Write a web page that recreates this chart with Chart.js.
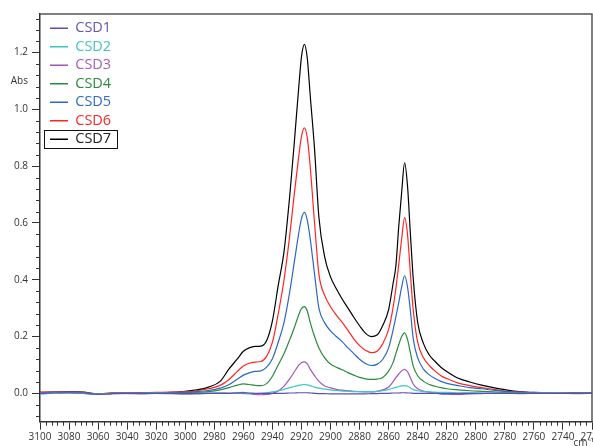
<!DOCTYPE html>
<html>
<head>
<meta charset="utf-8">
<script src="https://cdn.jsdelivr.net/npm/chart.js@4.4.1/dist/chart.umd.min.js"></script>
<style>
  html, body { margin: 0; padding: 0; background: #fff; overflow: hidden; }
  #wrap { width: 612px; height: 460px; position: relative; }
</style>
</head>
<body>
<div id="wrap"><canvas id="spec"></canvas></div>
<script>
// IR spectra, C-H stretch region

const wavenumbers = [3100, 3090, 3080, 3070, 3060, 3050, 3040, 3030, 3020, 3010,
  3000, 2992, 2984, 2976, 2970, 2964, 2960, 2956, 2952, 2948,
  2944, 2940, 2936, 2932, 2928, 2925, 2922, 2920, 2918, 2916,
  2914, 2911, 2908, 2904, 2900, 2896, 2892, 2888, 2884, 2880,
  2876, 2872, 2868, 2864, 2860, 2857, 2855, 2853, 2851, 2849,
  2847, 2845, 2843, 2840, 2836, 2832, 2828, 2824, 2820, 2812,
  2804, 2796, 2788, 2780, 2770, 2760, 2750, 2740, 2730, 2720];

const csd1 = [0.000, 0.001, 0.002, 0.001, -0.004, -0.001, 0.000, 0.000, 0.000, 0.000,
  0.000, 0.000, 0.000, 0.000, 0.000, 0.001, 0.001, 0.001, 0.000, 0.000,
  0.000, 0.000, 0.000, 0.000, 0.001, 0.001, 0.002, 0.002, 0.002, 0.002,
  0.001, 0.000, -0.001, -0.001, -0.002, -0.002, -0.002, -0.002, -0.002, -0.002,
  -0.002, -0.001, -0.001, 0.000, 0.000, 0.001, 0.001, 0.001, 0.002, 0.002,
  0.001, 0.001, 0.000, 0.000, 0.000, 0.000, 0.000, -0.001, -0.001, -0.001,
  0.000, 0.000, 0.000, 0.000, 0.000, 0.000, 0.000, 0.000, 0.000, 0.000];

const csd2 = [-0.004, 0.001, 0.002, 0.000, -0.003, 0.000, -0.001, 0.000, 0.001, 0.000,
  -0.001, 0.000, 0.001, 0.001, 0.000, 0.000, -0.001, -0.002, -0.001, 0.000,
  0.002, 0.005, 0.009, 0.014, 0.020, 0.024, 0.028, 0.030, 0.031, 0.030,
  0.027, 0.022, 0.018, 0.015, 0.012, 0.010, 0.008, 0.007, 0.006, 0.006,
  0.006, 0.006, 0.007, 0.009, 0.013, 0.018, 0.021, 0.024, 0.026, 0.027,
  0.025, 0.019, 0.013, 0.009, 0.006, 0.005, 0.004, 0.003, 0.003, 0.002,
  0.002, 0.001, 0.001, 0.001, 0.000, 0.000, 0.001, 0.000, 0.000, 0.000];

const csd3 = [0.001, 0.002, 0.001, 0.000, -0.004, -0.001, 0.000, -0.002, 0.000, -0.001,
  -0.003, -0.002, 0.000, 0.001, 0.000, 0.002, 0.003, 0.000, -0.004, -0.005,
  -0.004, 0.000, 0.008, 0.025, 0.052, 0.075, 0.098, 0.108, 0.111, 0.104,
  0.085, 0.062, 0.042, 0.026, 0.019, 0.014, 0.011, 0.009, 0.007, 0.006,
  0.005, 0.005, 0.007, 0.012, 0.022, 0.040, 0.055, 0.068, 0.079, 0.084,
  0.076, 0.055, 0.032, 0.016, 0.008, 0.004, 0.001, -0.002, -0.003, -0.004,
  -0.002, -0.001, 0.000, 0.000, -0.001, 0.000, 0.001, 0.000, -0.001, 0.000];

const csd4 = [0.002, 0.003, 0.003, 0.002, -0.003, 0.000, 0.000, 0.000, 0.001, 0.001,
  0.002, 0.003, 0.006, 0.012, 0.020, 0.029, 0.033, 0.031, 0.028, 0.027,
  0.034, 0.060, 0.100, 0.140, 0.190, 0.230, 0.275, 0.298, 0.305, 0.290,
  0.250, 0.200, 0.160, 0.125, 0.103, 0.092, 0.083, 0.073, 0.064, 0.056,
  0.051, 0.049, 0.050, 0.056, 0.078, 0.108, 0.140, 0.172, 0.200, 0.213,
  0.190, 0.142, 0.095, 0.062, 0.042, 0.031, 0.025, 0.020, 0.016, 0.012,
  0.009, 0.007, 0.005, 0.003, 0.002, 0.001, 0.001, 0.000, 0.001, 0.001];

const csd5 = [0.002, 0.003, 0.004, 0.002, -0.004, 0.000, 0.000, 0.001, 0.001, 0.002,
  0.004, 0.006, 0.010, 0.018, 0.030, 0.050, 0.064, 0.072, 0.077, 0.079,
  0.092, 0.122, 0.180, 0.250, 0.360, 0.460, 0.560, 0.615, 0.637, 0.610,
  0.545, 0.420, 0.300, 0.248, 0.220, 0.200, 0.182, 0.160, 0.140, 0.120,
  0.105, 0.098, 0.102, 0.120, 0.160, 0.222, 0.270, 0.320, 0.375, 0.414,
  0.375, 0.290, 0.190, 0.125, 0.085, 0.065, 0.052, 0.042, 0.035, 0.027,
  0.020, 0.016, 0.011, 0.007, 0.004, 0.002, 0.001, 0.000, 0.001, 0.001];

const csd6 = [0.004, 0.005, 0.005, 0.003, -0.002, 0.002, 0.001, 0.002, 0.003, 0.004,
  0.006, 0.009, 0.016, 0.028, 0.048, 0.078, 0.096, 0.106, 0.110, 0.112,
  0.130, 0.180, 0.280, 0.400, 0.560, 0.700, 0.830, 0.905, 0.935, 0.900,
  0.800, 0.600, 0.420, 0.345, 0.305, 0.275, 0.250, 0.222, 0.192, 0.168,
  0.152, 0.143, 0.148, 0.175, 0.225, 0.300, 0.370, 0.455, 0.545, 0.619,
  0.560, 0.420, 0.290, 0.180, 0.125, 0.098, 0.078, 0.062, 0.052, 0.036,
  0.027, 0.020, 0.014, 0.008, 0.004, 0.002, 0.001, 0.001, 0.002, 0.002];

const csd7 = [0.003, 0.004, 0.006, 0.004, -0.003, 0.001, 0.000, 0.001, 0.002, 0.003,
  0.007, 0.012, 0.022, 0.042, 0.085, 0.122, 0.148, 0.160, 0.165, 0.166,
  0.185, 0.255, 0.380, 0.500, 0.700, 0.880, 1.070, 1.185, 1.229, 1.180,
  1.050, 0.860, 0.620, 0.480, 0.410, 0.368, 0.332, 0.300, 0.268, 0.238,
  0.212, 0.200, 0.205, 0.240, 0.295, 0.385, 0.450, 0.590, 0.710, 0.812,
  0.730, 0.560, 0.400, 0.250, 0.175, 0.135, 0.112, 0.092, 0.077, 0.053,
  0.040, 0.029, 0.020, 0.013, 0.006, 0.003, 0.002, 0.000, 0.001, 0.002];

const seriesNames = ['CSD1', 'CSD2', 'CSD3', 'CSD4', 'CSD5', 'CSD6', 'CSD7'];
const seriesValues = [csd1, csd2, csd3, csd4, csd5, csd6, csd7];
const lineColors = ['#5b4fb3', '#3cc6c8', '#a455bb', '#2b8a3c', '#2c68c2', '#ff2424', '#000000'];
const textColors = ['#6657b0', '#45c3c6', '#a65cbc', '#2e8a40', '#2f6bc2', '#f22a2a', '#222222'];

const xTickLabels = [3100, 3080, 3060, 3040, 3020, 3000, 2980, 2960, 2940, 2920,
  2900, 2880, 2860, 2840, 2820, 2800, 2780, 2760, 2740, 2720];
const yTickLabels = [0.0, 0.2, 0.4, 0.6, 0.8, 1.0, 1.2];

const axisColor = '#333';
const tickFont = { family: 'Open Sans', size: 10 };

// minor ticks, frame, axis units and the box round the last legend entry
const decorPlugin = {
  id: 'decor',
  afterLayout(chart) {
    const lg = chart.legend;
    lg.left = chart.chartArea.left + 6;
    lg.top = chart.chartArea.top + 3;
  },
  afterDraw(chart) {
    const { ctx, chartArea: a, scales: { x, y } } = chart;
    ctx.save();
    ctx.strokeStyle = axisColor;
    ctx.lineWidth = 1;
    ctx.beginPath();
    for (let v = 2720; v <= 3100; v += 4) {
      if (v % 20 === 0) continue;
      const px = Math.round(x.getPixelForValue(v)) + 0.5;
      ctx.moveTo(px, a.bottom);
      ctx.lineTo(px, a.bottom + 4);
    }
    for (let i = -2; i <= 33; i++) {
      if (i % 5 === 0) continue;
      const py = Math.round(y.getPixelForValue(i * 0.04)) + 0.5;
      ctx.moveTo(a.left - 4, py);
      ctx.lineTo(a.left, py);
    }
    ctx.stroke();

    // top and right frame
    ctx.strokeStyle = '#555';
    ctx.lineWidth = 1.5;
    ctx.beginPath();
    ctx.moveTo(a.left, a.top);
    ctx.lineTo(a.right, a.top);
    ctx.lineTo(a.right, a.bottom);
    ctx.stroke();

    // axis units
    ctx.fillStyle = axisColor;
    ctx.font = '10px "Open Sans"';
    ctx.textAlign = 'right';
    ctx.textBaseline = 'middle';
    ctx.fillText('Abs', a.left - 12, y.getPixelForValue(1.1));
    ctx.fillText('cm⁻¹', a.right + 2, a.bottom + 21);

    // box round CSD7
    const hb = chart.legend.legendHitBoxes[6];
    if (hb) {
      ctx.strokeStyle = '#111';
      ctx.lineWidth = 1;
      ctx.strokeRect(Math.round(hb.left - 6) + 0.5, Math.round(hb.top - 2) + 0.5,
        Math.round(hb.width + 12), Math.round(hb.height + 3));
    }
    ctx.restore();
  }
};

const datasets = seriesNames.map((name, i) => ({
  label: name,
  data: wavenumbers.map((w, j) => ({ x: w, y: seriesValues[i][j] })),
  borderColor: lineColors[i],
  backgroundColor: lineColors[i],
  borderWidth: 1.2,
  pointRadius: 0,
  cubicInterpolationMode: 'monotone',
  fill: false
}));

new Chart(document.getElementById('spec'), {
  type: 'line',
  data: { datasets: datasets },
  plugins: [decorPlugin],
  options: {
    responsive: true,
    maintainAspectRatio: false,
    animation: false,
    layout: { padding: { left: 0, top: 14, right: 20, bottom: 0 } },
    plugins: {
      tooltip: { enabled: false },
      legend: {
        position: 'chartArea',
        align: 'start',
        labels: {
          usePointStyle: true,
          pointStyle: 'line',
          pointStyleWidth: 18,
          padding: 4,
          font: { family: 'Open Sans', size: 14.5 },
          generateLabels(chart) {
            const items = Chart.defaults.plugins.legend.labels.generateLabels(chart);
            items.forEach((it, i) => { it.fontColor = textColors[i]; it.lineWidth = 1.5; });
            return items;
          }
        }
      }
    },
    scales: {
      x: {
        type: 'linear',
        reverse: true,
        min: 2720,
        max: 3100,
        afterBuildTicks: (scale) => { scale.ticks = xTickLabels.map(v => ({ value: v })); },
        afterFit: (scale) => { scale.height = 38.3; },
        ticks: { color: axisColor, font: tickFont, padding: 1, maxRotation: 0, autoSkip: false,
          callback: (v) => String(v) },
        grid: { drawOnChartArea: false, drawTicks: true, tickLength: 8, tickColor: axisColor },
        border: { color: axisColor, width: 1.5 }
      },
      y: {
        min: -0.1,
        max: 1.336,
        afterBuildTicks: (scale) => { scale.ticks = yTickLabels.map(v => ({ value: v })); },
        afterFit: (scale) => { scale.width = 40; },
        ticks: { color: axisColor, font: tickFont, padding: 4,
          callback: (v) => v.toFixed(1) },
        grid: { drawOnChartArea: false, drawTicks: true, tickLength: 8, tickColor: axisColor },
        border: { color: axisColor, width: 1.5 }
      }
    }
  }
});
</script>
</body>
</html>
